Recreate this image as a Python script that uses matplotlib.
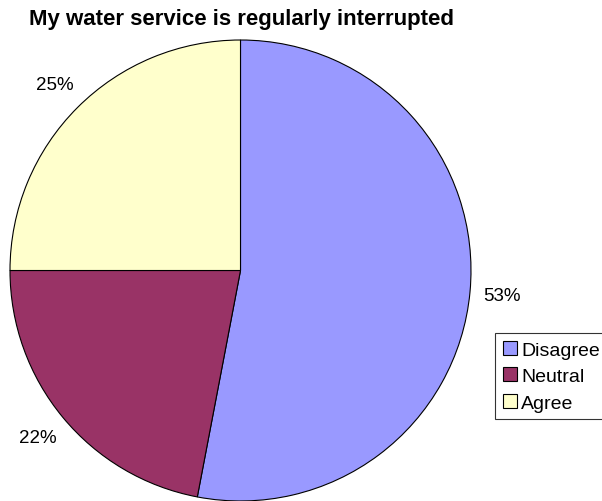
import numpy as np
import matplotlib.pyplot as plt

plt.rcParams['font.family'] = ['Liberation Sans', 'DejaVu Sans']

labels = ['Disagree', 'Neutral', 'Agree']
values = [53, 22, 25]
colors = ['#9999FF', '#993366', '#FFFFCC']

fig = plt.figure(figsize=(6.02, 5.02), dpi=100)
ax = fig.add_axes([0, 0, 1, 1])

cx, cy, r = 240.5, 502 - 271.5, 230.5
wedges, _ = ax.pie(values, colors=colors, startangle=90, counterclock=False,
                   center=(cx, cy), radius=r, frame=True,
                   wedgeprops=dict(edgecolor='black', linewidth=0.8))
ax.set_xlim(0, 602)
ax.set_ylim(0, 502)
ax.set_aspect('equal')
ax.axis('off')

# percentage labels just outside the rim
for w, v in zip(wedges, values):
    ang = np.deg2rad((w.theta1 + w.theta2) / 2)
    ax.text(cx + 1.14 * r * np.cos(ang), cy + 1.14 * r * np.sin(ang), f'{v}%',
            ha='center', va='center', fontsize=13.5)

fig.text(29 / 602, 1 - 20 / 502, 'My water service is regularly interrupted',
         fontsize=16, fontweight='bold', ha='left', va='center')

leg = ax.legend(wedges, labels, loc='upper left',
                bbox_to_anchor=(495 / 602, 1 - 334 / 502),
                bbox_transform=fig.transFigure, fontsize=14, frameon=True,
                fancybox=False, handlelength=0.75, handleheight=0.75,
                handletextpad=0.2, labelspacing=0.44, borderpad=0.4,
                borderaxespad=0)
leg.get_frame().set_edgecolor('black')
leg.get_frame().set_linewidth(0.8)

fig.savefig('out.png', dpi=100)
